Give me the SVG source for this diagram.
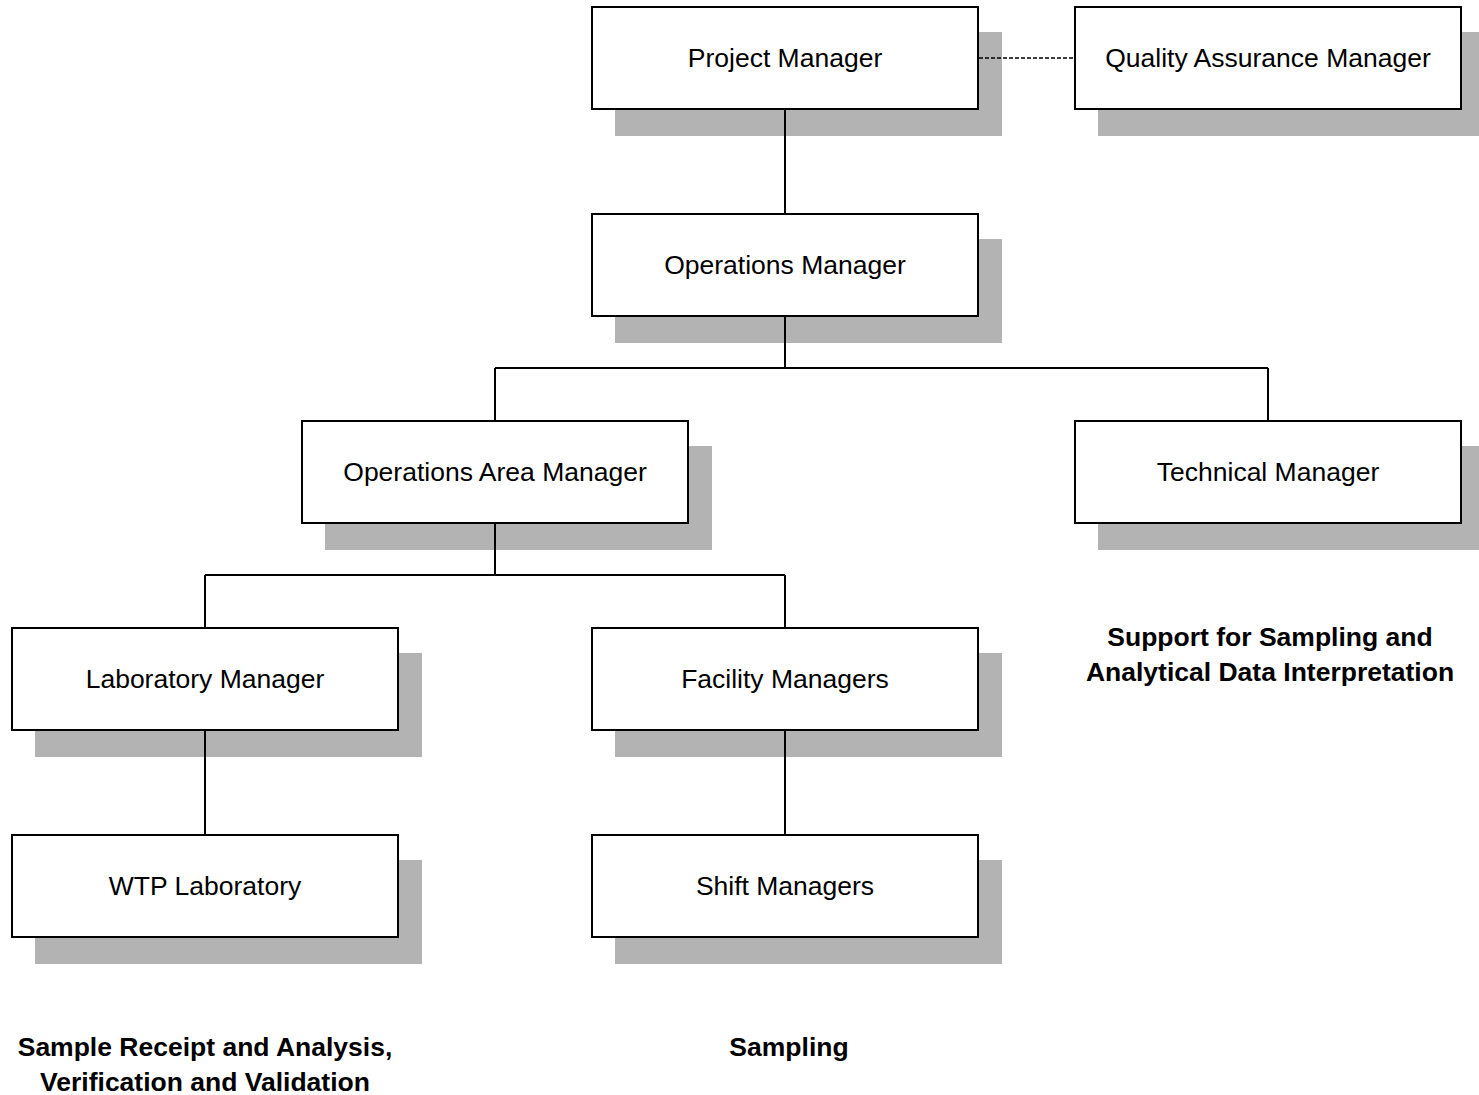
<svg xmlns="http://www.w3.org/2000/svg" width="1479" height="1095" viewBox="0 0 1479 1095">
<style>
.sh{fill:#b3b3b3}
.bx{fill:#fff;stroke:#000;stroke-width:2}
.t{font-family:"Liberation Sans",Arial,sans-serif;font-size:26.5px;text-anchor:middle;fill:#000}
.b{font-family:"Liberation Sans",Arial,sans-serif;font-size:26.5px;font-weight:bold;text-anchor:middle;fill:#000}
.c{fill:none;stroke:#000;stroke-width:2}
.d{fill:none;stroke:#000;stroke-width:1.5;stroke-dasharray:4 2}
</style>
<rect width="1479" height="1095" fill="#fff"/>
<g id="pm"><rect class="sh" x="615" y="32" width="387" height="104"/><rect class="bx" x="592" y="7" width="386" height="102"/><text class="t" x="785" y="67">Project Manager</text></g>
<g id="qam"><rect class="sh" x="1098" y="32" width="387" height="104"/><rect class="bx" x="1075" y="7" width="386" height="102"/><text class="t" x="1268" y="67">Quality Assurance Manager</text></g>
<g id="om"><rect class="sh" x="615" y="239" width="387" height="104"/><rect class="bx" x="592" y="214" width="386" height="102"/><text class="t" x="785" y="274">Operations Manager</text></g>
<g id="oam"><rect class="sh" x="325" y="446" width="387" height="104"/><rect class="bx" x="302" y="421" width="386" height="102"/><text class="t" x="495" y="481">Operations Area Manager</text></g>
<g id="tm"><rect class="sh" x="1098" y="446" width="387" height="104"/><rect class="bx" x="1075" y="421" width="386" height="102"/><text class="t" x="1268" y="481">Technical Manager</text></g>
<g id="lm"><rect class="sh" x="35" y="653" width="387" height="104"/><rect class="bx" x="12" y="628" width="386" height="102"/><text class="t" x="205" y="688">Laboratory Manager</text></g>
<g id="fm"><rect class="sh" x="615" y="653" width="387" height="104"/><rect class="bx" x="592" y="628" width="386" height="102"/><text class="t" x="785" y="688">Facility Managers</text></g>
<g id="wtp"><rect class="sh" x="35" y="860" width="387" height="104"/><rect class="bx" x="12" y="835" width="386" height="102"/><text class="t" x="205" y="895">WTP Laboratory</text></g>
<g id="sm"><rect class="sh" x="615" y="860" width="387" height="104"/><rect class="bx" x="592" y="835" width="386" height="102"/><text class="t" x="785" y="895">Shift Managers</text></g>
<g id="labels">
<text class="b" x="1270" y="645.5">Support for Sampling and</text>
<text class="b" x="1270" y="680.5">Analytical Data Interpretation</text>
<text class="b" x="205" y="1055.5">Sample Receipt and Analysis,</text>
<text class="b" x="205" y="1090.5">Verification and Validation</text>
<text class="b" x="789" y="1056">Sampling</text>
</g>
<g id="connectors">
<path class="c" d="M785 109V213"/>
<path class="c" d="M785 316V368M495 368H1268M495 368V420M1268 368V420"/>
<path class="c" d="M495 523V575M205 575H785M205 575V627M785 575V627"/>
<path class="c" d="M205 730V834M785 730V834"/>
<path class="d" d="M979 58H1074"/>
</g>
</svg>
